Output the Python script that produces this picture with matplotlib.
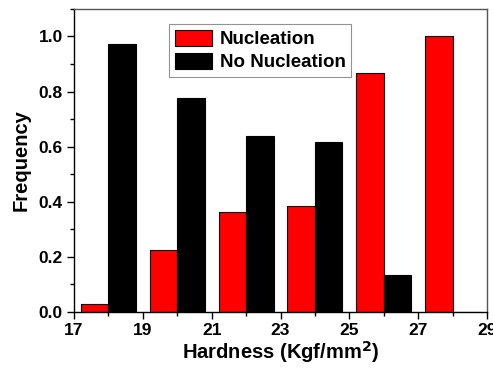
import matplotlib
matplotlib.use("Agg")
import matplotlib.pyplot as plt
from matplotlib.ticker import MultipleLocator

# bin centres (hardness, Kgf/mm^2) and normalised frequencies
centers = [18, 20, 22, 24, 26, 28]
nucleation = [0.029, 0.223, 0.364, 0.383, 0.868, 1.0]
no_nucleation = [0.973, 0.778, 0.637, 0.616, 0.133, 0.0]
xticks = [17, 19, 21, 23, 25, 27, 29]

plt.rcParams["font.family"] = ["Liberation Sans", "DejaVu Sans"]
plt.rcParams["font.weight"] = "bold"

fig = plt.figure(figsize=(4.93, 3.70), dpi=100)
ax = fig.add_axes([0.150, 0.157, 0.838, 0.819])

w = 0.8
ax.bar([c - w / 2 for c in centers], nucleation, width=w, color="#ff0000",
       edgecolor="black", linewidth=0.8, label="Nucleation")
ax.bar([c + w / 2 for c in centers], no_nucleation, width=w, color="black",
       edgecolor="black", linewidth=0.8, label="No Nucleation")

ax.set_xlim(17, 29)
ax.set_ylim(0, 1.1)
ax.set_xticks(xticks)
ax.xaxis.set_minor_locator(MultipleLocator(1))
ax.yaxis.set_major_locator(MultipleLocator(0.2))
ax.yaxis.set_minor_locator(MultipleLocator(0.1))
ax.yaxis.set_major_formatter(plt.FormatStrFormatter("%.1f"))
ax.tick_params(which="major", direction="out", length=5, width=1, labelsize=12.5, pad=3)
ax.tick_params(which="minor", direction="out", length=3, width=1)
for sp in ax.spines.values():
    sp.set_linewidth(1)
for sp in ("top", "right"):
    ax.spines[sp].set_color("#555555")

ax.set_xlabel("Hardness (Kgf/mm$^\\mathbf{2}$)", fontsize=14.5, fontweight="bold", labelpad=1)
ax.set_ylabel("Frequency", fontsize=14.5, fontweight="bold", labelpad=6)

leg = ax.legend(loc="upper left", bbox_to_anchor=(0.23, 0.95), borderaxespad=0,
                fontsize=13.5, fancybox=False, edgecolor="#777777",
                handlelength=2.0, handleheight=0.95, labelspacing=0.25,
                borderpad=0.3, handletextpad=0.4)
leg.get_frame().set_linewidth(0.8)

fig.savefig("out.png", dpi=100)
